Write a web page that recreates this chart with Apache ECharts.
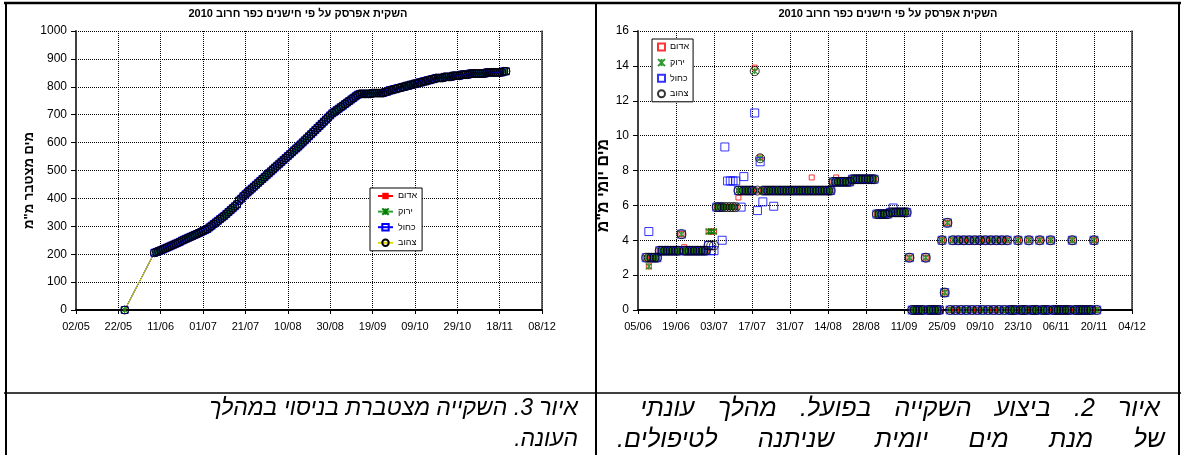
<!DOCTYPE html>
<html lang="he">
<head>
<meta charset="utf-8">
<title>השקית אפרסק על פי חישנים כפר חרוב 2010</title>
<script src="https://cdn.jsdelivr.net/npm/echarts@6/dist/echarts.min.js"></script>
<style>
  html, body { margin: 0; padding: 0; background: #fff; }
  #page { position: relative; width: 1182px; height: 455px; overflow: hidden; background: #fff; }
  .layer { position: absolute; left: 0; top: 0; width: 1182px; height: 455px; }
</style>
</head>
<body>
<div id="page">
  <div id="cumChart" class="layer"></div>
  <div id="dailyChart" class="layer"></div>
</div>
<script>
// ---------- data ----------
const seriesNames = ['אדום', 'ירוק', 'כחול', 'צהוב'];
const chartTitle = 'השקית אפרסק על פי חישנים כפר חרוב 2010';
const cumAxisName = 'מים מצטבר מ"מ';
const dailyAxisName = 'מים יומי מ"מ';
const captionCum = ['איור 3. השקייה מצטברת בניסוי במהלך', 'העונה.'];
const captionDaily = ['איור 2. ביצוע השקייה בפועל. מהלך עונתי', 'של מנת מים יומית שניתנה לטיפולים.'];

// axis ranges (dates) and tick step in days
const cumAxisRange = ['2010-05-02', '2010-12-08'];
const cumAxisStepDays = 20;
const dailyAxisRange = ['2010-06-05', '2010-12-04'];
const dailyAxisStepDays = 14;

// cumulative water: a single early reading, then one value per day from 08/06
const cumFirstDate = '2010-05-25';
const cumFirstValue = 0;
const cumStartDate = '2010-06-08';
const cumulative = [
  205, 208, 211, 214, 217,
  220.4, 223.8, 227.2, 230.6, 234, 237.4, 240.8, 244.2,
  248.6,
  252, 255.4, 258.8, 262.2, 265.6, 269, 272.4, 275.8, 279.2,
  282.9, 286.6, 290.3,
  296.2, 302.1, 308, 313.9, 319.8, 325.7, 331.6, 337.5,
  344.3, 351.2, 358, 364.9, 371.7, 378.6,
  392.3, 399.1, 407.8,
  414.7, 421.5, 428.4, 435.2, 442.1, 448.9, 455.8, 462.6, 469.5, 476.3,
  483.2, 490, 496.9, 503.7, 510.6, 517.4, 524.3, 531.1, 538, 544.8,
  551.7, 558.5, 565.4, 572.2, 579.1, 585.9,
  593.3, 600.6, 608, 615.3, 622.7, 630, 637.4,
  644.9, 652.4, 659.9, 667.4, 674.9, 682.4, 689.9, 697.4, 704.9,
  710.4, 715.9, 721.4, 726.9, 732.4,
  738, 743.6, 749.2, 754.8, 760.4, 766, 771.6,
  774.6, 774.6, 774.6, 774.6, 774.6, 774.6,
  777.6, 777.6, 777.6, 777.6, 777.6, 777.6,
  781.6, 782.6, 787.6, 787.6,
  791.6, 791.6, 795.6, 795.6, 799.6, 799.6, 803.6, 803.6, 807.6, 807.6,
  811.6, 811.6, 815.6, 815.6, 819.6, 819.6, 823.6, 823.6, 827.6, 827.6,
  831.6, 831.6, 831.6, 831.6,
  835.6, 835.6, 835.6, 835.6,
  839.6, 839.6, 839.6, 839.6,
  843.6, 843.6, 843.6, 843.6,
  847.6, 847.6, 847.6, 847.6, 847.6, 847.6, 847.6, 847.6,
  851.6, 851.6, 851.6, 851.6, 851.6, 851.6, 851.6, 851.6,
  855.6, 855.6
];

// daily water per sensor, one value per day from 08/06 to 21/11
const dailyStartDate = '2010-06-08';
const dailyRed = [
  3, 2.5, 3, 3, 3,
  3.4, 3.4, 3.4, 3.4, 3.4, 3.4, 3.4, 3.4,
  4.35,
  3.6, 3.4, 3.4, 3.4, 3.4, 3.4, 3.4, 3.4, 3.4,
  4.5, 4.5, 4.5,
  5.9, 5.9, 5.9, 5.9, 5.9, 5.9, 5.9, 5.9,
  6.45, 6.85, 6.85, 6.85, 6.85, 6.85,
  13.9, 6.85, 8.75,
  6.85, 6.85, 6.85, 6.85, 6.85, 6.85, 6.85, 6.85, 6.85, 6.85,
  6.85, 6.85, 6.85, 6.85, 6.85, 6.85, 6.85, 6.85, 7.6, 6.85,
  6.85, 6.85, 6.85, 6.85, 6.85, 6.85,
  7.35, 7.6, 7.35, 7.35, 7.35, 7.35, 7.35,
  7.5, 7.5, 7.5, 7.5, 7.5, 7.5, 7.5, 7.5, 7.5,
  5.5, 5.5, 5.5, 5.5, 5.5,
  5.6, 5.6, 5.6, 5.6, 5.6, 5.6, 5.6,
  3, 0, 0, 0, 0, 0, 3, 0, 0, 0, 0, 0,
  4, 1, 5, 0,
  4, 0, 4, 0, 4, 0, 4, 0, 4, 0, 4, 0, 4, 0, 4, 0, 4, 0, 4, 0, 4,
  0, 0, 0, 4, 0, 0, 0, 4, 0, 0, 0, 4, 0, 0, 0, 4,
  0, 0, 0, 0, 0, 0, 0, 4, 0, 0, 0, 0, 0, 0, 0, 4, 0
];
const dailyGreen = [
  3, 2.5, 3, 3, 3,
  3.4, 3.4, 3.4, 3.4, 3.4, 3.4, 3.4, 3.4,
  4.35,
  3.4, 3.4, 3.4, 3.4, 3.4, 3.4, 3.4, 3.4, 3.4,
  4.5, 4.5, 4.5,
  5.9, 5.9, 5.9, 5.9, 5.9, 5.9, 5.9, 5.9,
  6.85, 6.85, 6.85, 6.85, 6.85, 6.85,
  13.7, 6.85, 8.7,
  6.85, 6.85, 6.85, 6.85, 6.85, 6.85, 6.85, 6.85, 6.85, 6.85,
  6.85, 6.85, 6.85, 6.85, 6.85, 6.85, 6.85, 6.85, 6.85, 6.85,
  6.85, 6.85, 6.85, 6.85, 6.85, 6.85,
  7.35, 7.35, 7.35, 7.35, 7.35, 7.35, 7.35,
  7.5, 7.5, 7.5, 7.5, 7.5, 7.5, 7.5, 7.5, 7.5,
  5.5, 5.5, 5.5, 5.5, 5.5,
  5.6, 5.6, 5.6, 5.6, 5.6, 5.6, 5.6,
  3, 0, 0, 0, 0, 0, 3, 0, 0, 0, 0, 0,
  4, 1, 5, 0,
  4, 0, 4, 0, 4, 0, 4, 0, 4, 0, 4, 0, 4, 0, 4, 0, 4, 0, 4, 0, 4,
  0, 0, 0, 4, 0, 0, 0, 4, 0, 0, 0, 4, 0, 0, 0, 4,
  0, 0, 0, 0, 0, 0, 0, 4, 0, 0, 0, 0, 0, 0, 0, 4, 0
];
const dailyBlue = [
  3, 4.5, 3, 3, 3,
  3.4, 3.4, 3.4, 3.4, 3.4, 3.4, 3.4, 3.4,
  4.35,
  3.4, 3.4, 3.4, 3.4, 3.4, 3.4, 3.4, 3.4, 3.4,
  3.7, 3.4, 3.4,
  5.9, 5.9, 4.0, 9.35, 7.4, 7.4, 7.4, 7.4,
  6.85, 5.9, 7.65, 6.85, 6.85, 6.85,
  11.3, 5.7, 8.5,
  6.2, 6.85, 6.85, 6.85, 5.95, 6.85, 6.85, 6.85, 6.85, 6.85,
  6.85, 6.85, 6.85, 6.85, 6.85, 6.85, 6.85, 6.85, 6.85, 6.85,
  6.85, 6.85, 6.85, 6.85, 6.85, 6.85,
  7.35, 7.35, 7.35, 7.35, 7.35, 7.35, 7.35,
  7.5, 7.5, 7.5, 7.5, 7.5, 7.5, 7.5, 7.5, 7.5,
  5.5, 5.5, 5.5, 5.5, 5.5,
  5.6, 5.85, 5.6, 5.6, 5.6, 5.6, 5.6,
  3, 0, 0, 0, 0, 0, 3, 0, 0, 0, 0, 0,
  4, 1, 5, 0,
  4, 0, 4, 0, 4, 0, 4, 0, 4, 0, 4, 0, 4, 0, 4, 0, 4, 0, 4, 0, 4,
  0, 0, 0, 4, 0, 0, 0, 4, 0, 0, 0, 4, 0, 0, 0, 4,
  0, 0, 0, 0, 0, 0, 0, 4, 0, 0, 0, 0, 0, 0, 0, 4, 0
];
const dailyYellow = [
  3, 3, 3, 3, 3,
  3.4, 3.4, 3.4, 3.4, 3.4, 3.4, 3.4, 3.4,
  4.35,
  3.4, 3.4, 3.4, 3.4, 3.4, 3.4, 3.4, 3.4, 3.4,
  3.7, 3.7, 3.7,
  5.9, 5.9, 5.9, 5.9, 5.9, 5.9, 5.9, 5.9,
  6.85, 6.85, 6.85, 6.85, 6.85, 6.85,
  13.7, 6.85, 8.7,
  6.85, 6.85, 6.85, 6.85, 6.85, 6.85, 6.85, 6.85, 6.85, 6.85,
  6.85, 6.85, 6.85, 6.85, 6.85, 6.85, 6.85, 6.85, 6.85, 6.85,
  6.85, 6.85, 6.85, 6.85, 6.85, 6.85,
  7.35, 7.35, 7.35, 7.35, 7.35, 7.35, 7.35,
  7.5, 7.5, 7.5, 7.5, 7.5, 7.5, 7.5, 7.5, 7.5,
  5.5, 5.5, 5.5, 5.5, 5.5,
  5.6, 5.6, 5.6, 5.6, 5.6, 5.6, 5.6,
  3, 0, 0, 0, 0, 0, 3, 0, 0, 0, 0, 0,
  4, 1, 5, 0,
  4, 0, 4, 0, 4, 0, 4, 0, 4, 0, 4, 0, 4, 0, 4, 0, 4, 0, 4, 0, 4,
  0, 0, 0, 4, 0, 0, 0, 4, 0, 0, 0, 4, 0, 0, 0, 4,
  0, 0, 0, 0, 0, 0, 0, 4, 0, 0, 0, 0, 0, 0, 0, 4, 0
];

// ---------- helpers ----------
const DAY_MS = 86400000;
const EPOCH = Date.UTC(1899, 11, 30);   // spreadsheet day-number origin
function serial(iso) {
  const p = iso.split('-').map(Number);
  return Math.round((Date.UTC(p[0], p[1] - 1, p[2]) - EPOCH) / DAY_MS);
}
function dayLabel(v) {
  const t = new Date(EPOCH + Math.round(v) * DAY_MS);
  return String(t.getUTCDate()).padStart(2, '0') + '/' + String(t.getUTCMonth() + 1).padStart(2, '0');
}
function toPairs(startIso, values) {
  const s = serial(startIso);
  const out = [];
  values.forEach((v, i) => { if (v != null) out.push([s + i, v]); });
  return out;
}

const FONT = '"Liberation Sans", Arial, "DejaVu Sans", sans-serif';
const RLM = '\u200F';
const STAR = 'path://M0 0L10 10M10 0L0 10M5 0L5 10';
const colors = { red: '#ff0000', green: '#008000', blue: '#0000ff', yellow: '#e0e000', black: '#000000' };

function valueAxisX(range, step) {
  return {
    type: 'value',
    min: serial(range[0]), max: serial(range[1]), interval: step,
    axisLine: { show: true, onZero: false, lineStyle: { color: '#000', width: 2 } },
    axisTick: { show: true, length: 4, lineStyle: { color: '#000', width: 1 } },
    axisLabel: { formatter: dayLabel, fontSize: 11, fontFamily: FONT, color: '#000', margin: 11 },
    splitLine: { show: true, lineStyle: { type: 'dotted', color: '#000', width: 1 } }
  };
}
function valueAxisY(min, max, step, name, nameSize, nameGap, shift) {
  return {
    type: 'value', min: min, max: max, interval: step,
    name: name, nameLocation: 'middle', nameRotate: 90, nameGap: nameGap,
    nameTextStyle: { fontSize: nameSize, fontWeight: 'bold', fontFamily: FONT, color: '#000', padding: [0, shift * 2, 0, 0] },
    axisLine: { show: true, lineStyle: { color: '#404040', width: 2 } },
    axisTick: { show: true, length: 5, lineStyle: { color: '#000', width: 1 } },
    axisLabel: { formatter: v => String(v), fontSize: 12, fontFamily: FONT, color: '#000', margin: 9 },
    splitLine: { show: true, lineStyle: { type: 'dotted', color: '#000', width: 1 } }
  };
}
// solid plot-area edge on the right side
function frameAxisY(min, max) {
  return {
    type: 'value', position: 'right', min: min, max: max,
    axisLine: { show: true, lineStyle: { color: '#333', width: 1.5 } },
    axisTick: { show: false }, axisLabel: { show: false }, splitLine: { show: false }
  };
}
function titleAt(x) {
  return {
    text: chartTitle, left: x, top: 14, padding: 0,
    textAlign: 'center', textVerticalAlign: 'middle',
    textStyle: { fontSize: 11, fontWeight: 'bold', fontFamily: FONT, color: '#000' }
  };
}
function legendAt(left, top, iconW, iconH, padding) {
  return {
    orient: 'vertical', left: left, top: top, padding: padding,
    itemWidth: iconW, itemHeight: iconH, itemGap: 3.6, selectedMode: false,
    backgroundColor: '#fff', borderColor: '#000', borderWidth: 1,
    textStyle: { fontSize: 9, fontFamily: FONT, color: '#000', lineHeight: 12 },
    data: seriesNames
  };
}

// ---------- table frame and captions ----------
const measureCtx = document.createElement('canvas').getContext('2d');

function frameLine(x1, y1, x2, y2, w) {
  return { type: 'line', silent: true, z: 100,
    shape: { x1: x1, y1: y1, x2: x2, y2: y2 },
    style: { stroke: '#000', lineWidth: w } };
}
function captionText(text, x, y, size) {
  return { type: 'text', silent: true, z: 100,
    style: { text: RLM + text + RLM, x: x, y: y, align: 'right', verticalAlign: 'middle',
      fontSize: size, fontStyle: 'italic', fontFamily: FONT, fill: '#000' } };
}
// a right-to-left line whose words are spread between xLeft and xRight
function justifiedLine(text, xLeft, xRight, y, size) {
  measureCtx.font = 'italic ' + size + 'px ' + FONT;
  const words = text.split(' ');
  const widths = words.map(w => measureCtx.measureText(w).width);
  const total = widths.reduce((a, b) => a + b, 0);
  const gap = words.length > 1 ? (xRight - xLeft - total) / (words.length - 1) : 0;
  let x = xRight;
  return words.map((w, i) => {
    const el = captionText(w, x, y, size);
    x -= widths[i] + gap;
    return el;
  });
}

const frame = [
  frameLine(4, 3, 1181, 3, 2.5),
  frameLine(6, 2, 6, 455, 2),
  frameLine(596, 2, 596, 455, 2),
  frameLine(1179, 2, 1179, 455, 2),
  frameLine(4, 393, 1181, 393, 1.5),
  captionText(captionCum[0], 578, 409, 23),
  captionText(captionCum[1], 578, 440, 23)
].concat(
  justifiedLine(captionDaily[0], 640, 1160, 409, 25),
  justifiedLine(captionDaily[1], 617, 1165, 440, 25)
);

// ---------- cumulative chart (left cell) ----------
const cumData = [[serial(cumFirstDate), cumFirstValue]].concat(toPairs(cumStartDate, cumulative));

const cumChart = echarts.init(document.getElementById('cumChart'), null, { renderer: 'canvas' });
cumChart.setOption({
  animation: false,
  title: titleAt(298),
  grid: { left: 76, top: 31, width: 466, height: 279, containLabel: false },
  xAxis: valueAxisX(cumAxisRange, cumAxisStepDays),
  yAxis: [valueAxisY(0, 1000, 100, cumAxisName, 13, 38, 10), frameAxisY(0, 1000)],
  legend: legendAt(370, 188, 15, 8, [2, 5, 2, 7]),
  series: [
    { name: seriesNames[0], type: 'line', data: cumData, showAllSymbol: true, silent: true,
      symbol: 'rect', symbolSize: 3,
      lineStyle: { color: colors.red, width: 1 }, itemStyle: { color: colors.red } },
    { name: seriesNames[1], type: 'line', data: cumData, showAllSymbol: true, silent: true,
      symbol: STAR, symbolSize: 6,
      lineStyle: { color: '#33a033', width: 1 }, itemStyle: { color: 'transparent', borderColor: colors.green, borderWidth: 1 } },
    { name: seriesNames[2], type: 'line', data: cumData, showAllSymbol: true, silent: true,
      symbol: 'rect', symbolSize: 7,
      lineStyle: { color: colors.blue, width: 1 }, itemStyle: { color: 'transparent', borderColor: colors.blue, borderWidth: 1 } },
    { name: seriesNames[3], type: 'line', data: cumData, showAllSymbol: true, silent: true,
      symbol: 'circle', symbolSize: 8,
      lineStyle: { color: colors.yellow, width: 1 }, itemStyle: { color: 'transparent', borderColor: colors.black, borderWidth: 1 } }
  ],
  graphic: frame
});

// ---------- daily chart (right cell) ----------
const dailyChart = echarts.init(document.getElementById('dailyChart'), null, { renderer: 'canvas' });
dailyChart.setOption({
  animation: false,
  title: titleAt(888),
  grid: { left: 638, top: 31, width: 494, height: 279, containLabel: false },
  xAxis: valueAxisX(dailyAxisRange, dailyAxisStepDays),
  yAxis: [valueAxisY(0, 16, 2, dailyAxisName, 16, 18, 15), frameAxisY(0, 16)],
  legend: legendAt(652, 39, 7, 7, [2, 4, 2, 5]),
  series: [
    { name: seriesNames[0], type: 'scatter', data: toPairs(dailyStartDate, dailyRed), silent: true,
      symbol: 'rect', symbolSize: 5,
      itemStyle: { color: 'transparent', borderColor: colors.red, borderWidth: 1 } },
    { name: seriesNames[1], type: 'scatter', data: toPairs(dailyStartDate, dailyGreen), silent: true,
      symbol: STAR, symbolSize: 6,
      itemStyle: { color: 'transparent', borderColor: colors.green, borderWidth: 1.3 } },
    { name: seriesNames[2], type: 'scatter', data: toPairs(dailyStartDate, dailyBlue), silent: true,
      symbol: 'rect', symbolSize: 8,
      itemStyle: { color: 'transparent', borderColor: colors.blue, borderWidth: 1 } },
    { name: seriesNames[3], type: 'scatter', data: toPairs(dailyStartDate, dailyYellow), silent: true,
      symbol: 'circle', symbolSize: 9,
      itemStyle: { color: 'transparent', borderColor: colors.black, borderWidth: 1 } }
  ]
});
</script>
</body>
</html>
